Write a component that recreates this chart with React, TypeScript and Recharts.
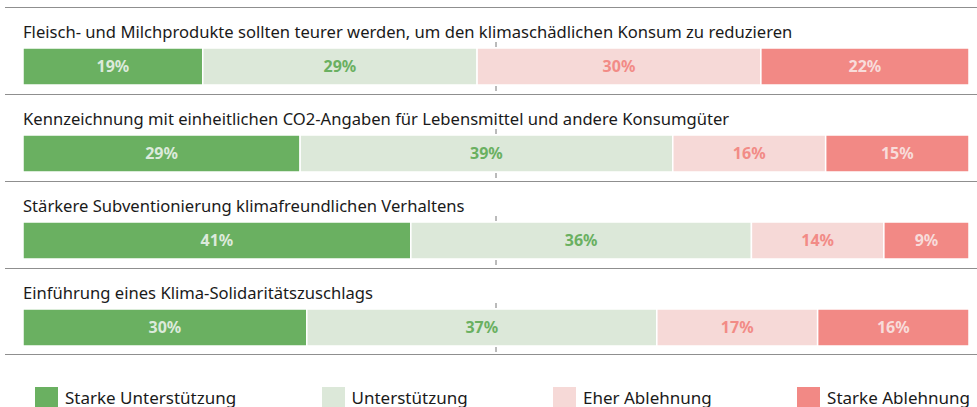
import { BarChart, Bar, XAxis, YAxis, LabelList, ReferenceLine } from 'recharts';

const QUESTIONS = [
  'Fleisch- und Milchprodukte sollten teurer werden, um den klimaschädlichen Konsum zu reduzieren',
  'Kennzeichnung mit einheitlichen CO2-Angaben für Lebensmittel und andere Konsumgüter',
  'Stärkere Subventionierung klimafreundlichen Verhaltens',
  'Einführung eines Klima-Solidaritätszuschlags',
];

const STRONG_SUPPORT = [19, 29, 41, 30];
const SUPPORT = [29, 39, 36, 37];
const RATHER_REJECT = [30, 16, 14, 17];
const STRONG_REJECT = [22, 15, 9, 16];

const SERIES = [
  { key: 'strongSupport', name: 'Starke Unterstützung', fill: '#6ab061', text: '#dceadb' },
  { key: 'support', name: 'Unterstützung', fill: '#dce8d9', text: '#6ab061' },
  { key: 'ratherReject', name: 'Eher Ablehnung', fill: '#f6d9d7', text: '#f28b86' },
  { key: 'strongReject', name: 'Starke Ablehnung', fill: '#f28985', text: '#f8dcda' },
];

const FONT = '"Noto Sans", "Open Sans", sans-serif';

// little tick marks of the 50% line, only visible above and below the bar
const MidTick = (props: any) => {
  const { x1, y1, y2 } = props;
  const top = Math.min(y1, y2);
  const bottom = Math.max(y1, y2);
  return (
    <g stroke="#777" strokeWidth={1}>
      <line x1={x1} x2={x1} y1={top - 6} y2={top - 1} />
      <line x1={x1} x2={x1} y1={bottom + 1} y2={bottom + 6} />
    </g>
  );
};

function Row({ index }: { index: number }) {
  const row = {
    name: QUESTIONS[index],
    strongSupport: STRONG_SUPPORT[index],
    support: SUPPORT[index],
    ratherReject: RATHER_REJECT[index],
    strongReject: STRONG_REJECT[index],
  };
  const total = row.strongSupport + row.support + row.ratherReject + row.strongReject;

  return (
    <div
      style={{
        position: 'absolute',
        top: 7 + index * 87,
        left: 5,
        width: 972,
        height: 87,
        borderTop: '1.5px solid #8f8f8f',
        borderBottom: index === QUESTIONS.length - 1 ? '1.5px solid #8f8f8f' : undefined,
        boxSizing: 'border-box',
      }}
    >
      <div
        style={{
          position: 'absolute',
          top: 14,
          left: 18,
          fontSize: 16.6,
          lineHeight: '19px',
          color: '#1a1a1a',
          whiteSpace: 'nowrap',
        }}
      >
        {row.name}
      </div>
      <div style={{ position: 'absolute', top: 33, left: -5 }}>
        <BarChart
          width={977}
          height={51}
          data={[row]}
          layout="vertical"
          margin={{ top: 7, right: 8, bottom: 7, left: 23 }}
          barCategoryGap={0}
        >
          <XAxis type="number" domain={[0, total]} hide />
          <YAxis type="category" dataKey="name" hide />
          <ReferenceLine x={total / 2} shape={MidTick} />
          {SERIES.map((s) => (
            <Bar
              key={s.key}
              dataKey={s.key}
              stackId="a"
              fill={s.fill}
              stroke="#fff"
              strokeWidth={1.5}
              isAnimationActive={false}
            >
              <LabelList
                dataKey={s.key}
                position="center"
                formatter={(v: any) => `${v}%`}
                fill={s.text}
                fontSize={16}
                fontWeight={700}
                fontFamily={FONT}
              />
            </Bar>
          ))}
        </BarChart>
      </div>
    </div>
  );
}

export default function App() {
  return (
    <div
      style={{
        position: 'absolute',
        left: 0,
        top: 0,
        width: 977,
        height: 407,
        overflow: 'hidden',
        background: '#fff',
        fontFamily: FONT,
      }}
    >
      {QUESTIONS.map((q, i) => (
        <Row key={q} index={i} />
      ))}
      {/* legend */}
      <div
        style={{
          position: 'absolute',
          top: 387,
          left: 35,
          right: 7,
          display: 'flex',
          justifyContent: 'space-between',
        }}
      >
        {SERIES.map((s) => (
          <div key={s.key} style={{ display: 'flex', alignItems: 'flex-start' }}>
            <div style={{ width: 23, height: 20, background: s.fill, marginRight: 7 }} />
            <span style={{ fontSize: 17, lineHeight: '22px', color: '#1a1a1a', marginTop: 0 }}>
              {s.name}
            </span>
          </div>
        ))}
      </div>
    </div>
  );
}
